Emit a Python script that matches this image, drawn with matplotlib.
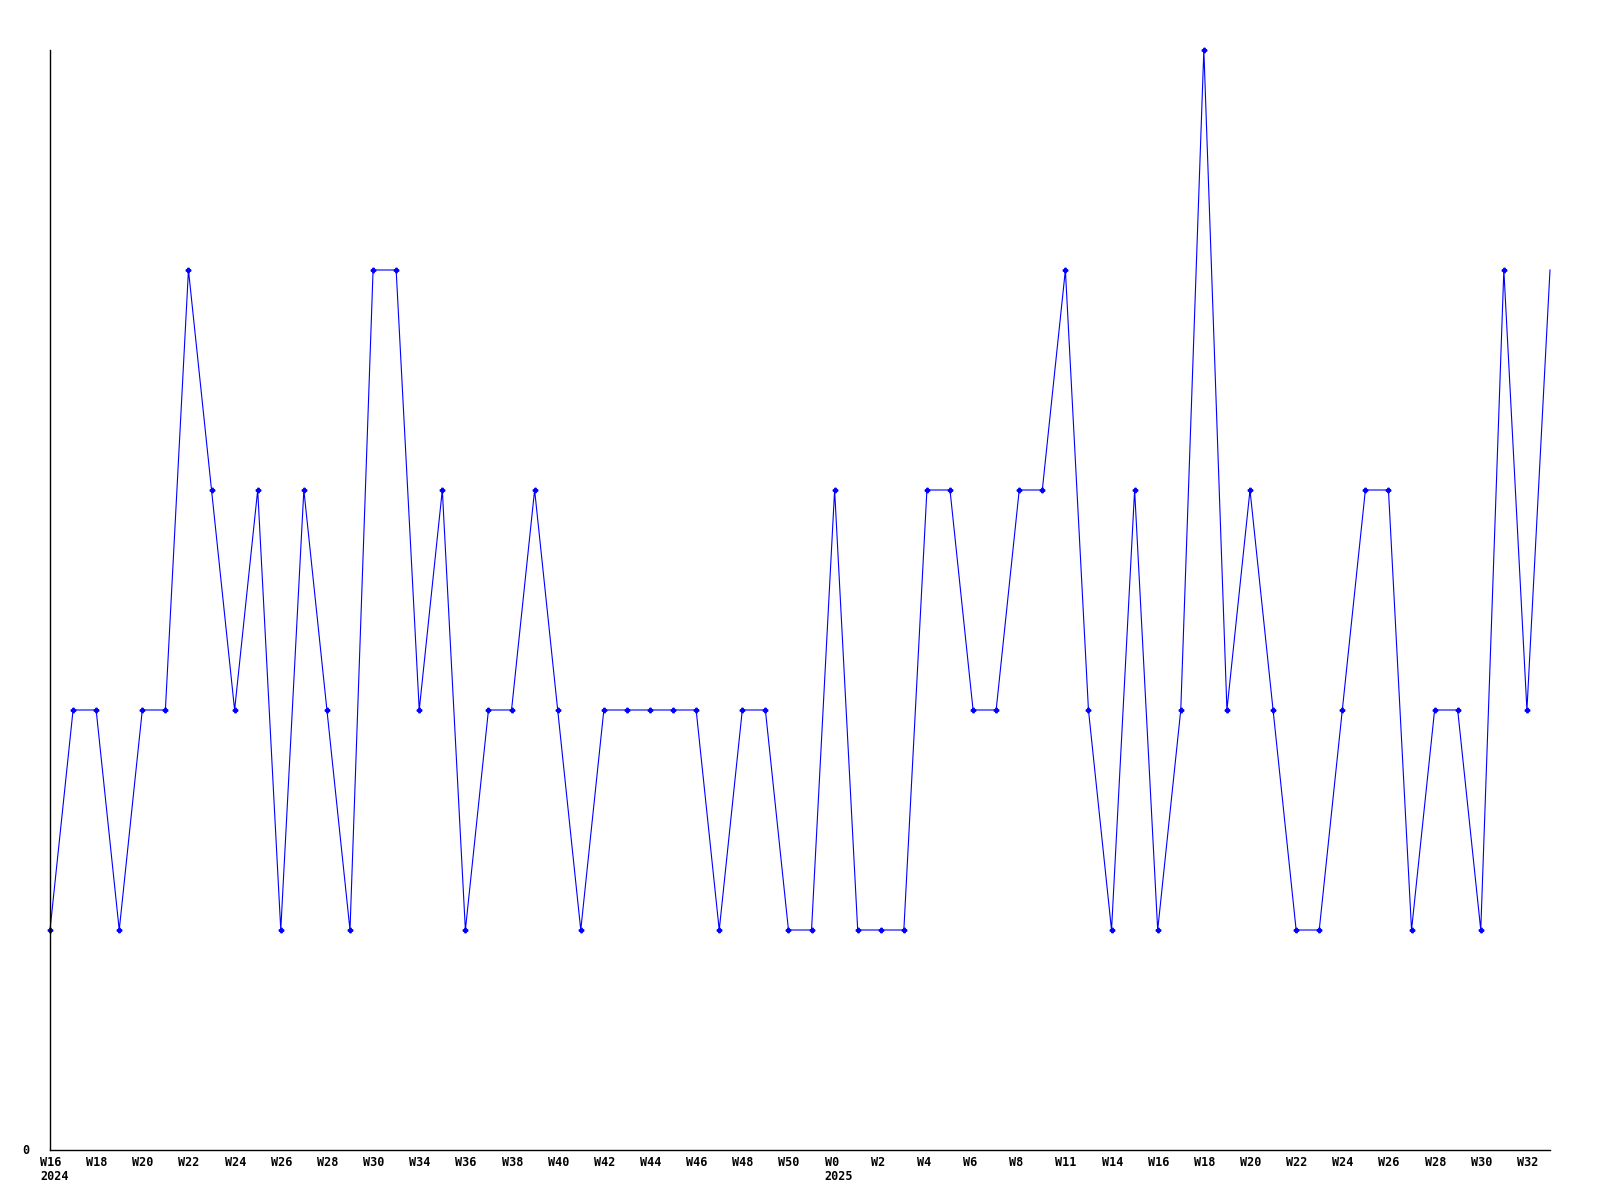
import numpy as np
import matplotlib.pyplot as plt
from matplotlib.transforms import offset_copy

# weekly counts, W16 2024 .. W33 2025
values = [1, 2, 2, 1, 2, 2, 4, 3, 2, 3,
          1, 3, 2, 1, 4, 4, 2, 3, 1, 2,
          2, 3, 2, 1, 2, 2, 2, 2, 2, 1,
          2, 2, 1, 1, 3, 1, 1, 1, 3, 3,
          2, 2, 3, 3, 4, 2, 1, 3, 1, 2,
          5, 2, 3, 2, 1, 1, 2, 3, 3, 1,
          2, 2, 1, 4, 2, 4]

tick_labels = ['W16', 'W18', 'W20', 'W22', 'W24', 'W26', 'W28', 'W30', 'W34',
               'W36', 'W38', 'W40', 'W42', 'W44', 'W46', 'W48', 'W50', 'W0',
               'W2', 'W4', 'W6', 'W8', 'W11', 'W14', 'W16', 'W18', 'W20',
               'W22', 'W24', 'W26', 'W28', 'W30', 'W32']
year_labels = {0: '2024', 34: '2025'}

x = np.arange(len(values))

fig = plt.figure(figsize=(16, 12), dpi=100)
ax = fig.add_axes([50/1600, 50/1200, 1500/1600, 1100/1200])

ax.plot(x, values, color='#0000ff', lw=0.8, marker='P', ms=3.2,
        markevery=list(range(len(values) - 1)), clip_on=False)

ax.set_xlim(0, len(values) - 1)
ax.set_ylim(0, max(values))
for s in ['top', 'right']:
    ax.spines[s].set_visible(False)
for s in ['left', 'bottom']:
    ax.spines[s].set_linewidth(1.0)
ax.set_xticks([])
ax.set_yticks([])

font = dict(family='DejaVu Sans Mono', weight='bold', fontsize=8.5, color='black')
for i, lab in enumerate(tick_labels):
    pos = i * 2
    ax.text(pos, 0, lab, transform=offset_copy(ax.get_xaxis_transform(), fig=fig, x=-10, y=-12, units='dots'),
            ha='left', va='center', **font)
    if pos in year_labels:
        ax.text(pos, 0, year_labels[pos], transform=offset_copy(ax.get_xaxis_transform(), fig=fig, x=-10, y=-27, units='dots'),
                ha='left', va='center', **font)
ax.text(0, 0, '0', transform=offset_copy(ax.transData, fig=fig, x=-28, y=0, units='dots'),
        ha='left', va='center', **font)

fig.savefig('out.png', dpi=100)
